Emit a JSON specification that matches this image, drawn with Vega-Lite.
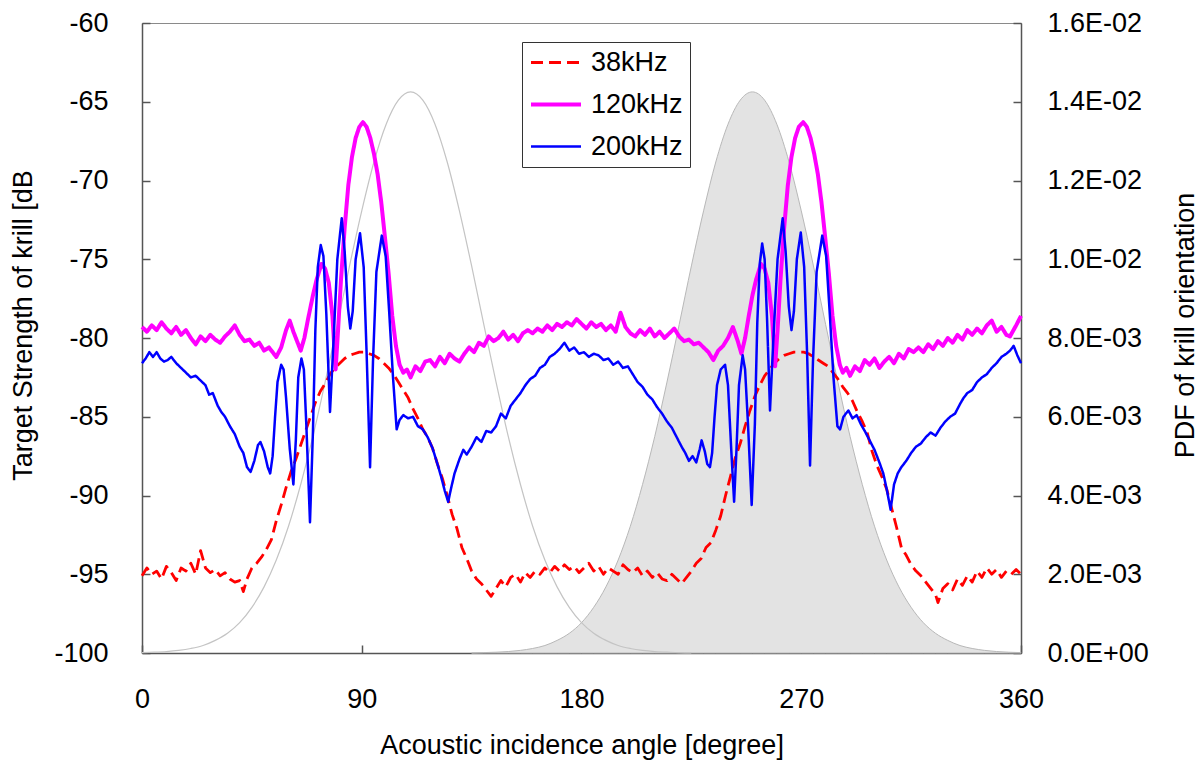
{
"$schema": "https://vega.github.io/schema/vega-lite/v6.json",
"width": 879, "height": 630,
"autosize": {"type": "none"},
"padding": {"left": 142, "top": 23, "right": 180, "bottom": 112},
"background": "white",
"config": {
 "font": "Liberation Sans",
 "view": {"stroke": "#8a8a8a", "strokeWidth": 1},
 "axis": {"labelFont": "Liberation Sans", "labelFontSize": 27, "labelColor": "black", "titleFont": "Liberation Sans", "titleFontSize": 27, "titleFontWeight": "normal", "titleColor": "black", "domainColor": "#555555", "domainWidth": 1.5, "tickColor": "#555555", "tickWidth": 1.5, "tickSize": -8, "grid": false, "labelFlush": false, "labelOverlap": false}
},
"datasets": {
 "pdf": [
  {"a":0,"g1":0.00001,"g2":null},{"a":5,"g1":0.00002,"g2":null},{"a":10,"g1":0.000037,"g2":null},{"a":15,"g1":0.000067,"g2":null},{"a":20,"g1":0.000115,"g2":null},{"a":25,"g1":0.00019,"g2":null},{"a":30,"g1":0.00032,"g2":null},{"a":35,"g1":0.0005,"g2":null},{"a":40,"g1":0.00077,"g2":null},{"a":45,"g1":0.00116,"g2":null},{"a":50,"g1":0.00168,"g2":null},{"a":55,"g1":0.00236,"g2":null},{"a":60,"g1":0.00322,"g2":null},{"a":65,"g1":0.00428,"g2":null},{"a":70,"g1":0.0055,"g2":null},{"a":75,"g1":0.00688,"g2":null},{"a":80,"g1":0.00834,"g2":null},{"a":85,"g1":0.00983,"g2":null},{"a":90,"g1":0.01123,"g2":null},{"a":95,"g1":0.01247,"g2":null},{"a":100,"g1":0.01343,"g2":null},{"a":105,"g1":0.01404,"g2":null},{"a":110,"g1":0.01425,"g2":null},{"a":115,"g1":0.01404,"g2":null},{"a":120,"g1":0.01343,"g2":null},{"a":125,"g1":0.01247,"g2":null},{"a":130,"g1":0.01123,"g2":null},{"a":135,"g1":0.00983,"g2":0},
  {"a":140,"g1":0.00834,"g2":0.00001},{"a":145,"g1":0.00688,"g2":0.00002},{"a":150,"g1":0.0055,"g2":0.000037},{"a":155,"g1":0.00428,"g2":0.000067},{"a":160,"g1":0.00322,"g2":0.000115},{"a":165,"g1":0.00236,"g2":0.00019},{"a":170,"g1":0.00168,"g2":0.00032},{"a":175,"g1":0.00116,"g2":0.0005},{"a":180,"g1":0.00077,"g2":0.00077},{"a":185,"g1":0.0005,"g2":0.00116},{"a":190,"g1":0.00032,"g2":0.00168},{"a":195,"g1":0.00019,"g2":0.00236},{"a":200,"g1":0.000115,"g2":0.00322},{"a":205,"g1":0.000067,"g2":0.00428},{"a":210,"g1":0.000037,"g2":0.0055},{"a":215,"g1":0.00002,"g2":0.00688},{"a":220,"g1":0.00001,"g2":0.00834},{"a":225,"g1":0,"g2":0.00983},
  {"a":230,"g1":null,"g2":0.01123},{"a":235,"g1":null,"g2":0.01247},{"a":240,"g1":null,"g2":0.01343},{"a":245,"g1":null,"g2":0.01404},{"a":250,"g1":null,"g2":0.01425},{"a":255,"g1":null,"g2":0.01404},{"a":260,"g1":null,"g2":0.01343},{"a":265,"g1":null,"g2":0.01247},{"a":270,"g1":null,"g2":0.01123},{"a":275,"g1":null,"g2":0.00983},{"a":280,"g1":null,"g2":0.00834},{"a":285,"g1":null,"g2":0.00688},{"a":290,"g1":null,"g2":0.0055},{"a":295,"g1":null,"g2":0.00428},{"a":300,"g1":null,"g2":0.00322},{"a":305,"g1":null,"g2":0.00236},{"a":310,"g1":null,"g2":0.00168},{"a":315,"g1":null,"g2":0.00116},{"a":320,"g1":null,"g2":0.00077},{"a":325,"g1":null,"g2":0.0005},{"a":330,"g1":null,"g2":0.00032},{"a":335,"g1":null,"g2":0.00019},{"a":340,"g1":null,"g2":0.000115},{"a":345,"g1":null,"g2":0.000067},{"a":350,"g1":null,"g2":0.000037},{"a":355,"g1":null,"g2":0.00002},{"a":360,"g1":null,"g2":0.00001}
 ],
 "ts": [
  {"a":0,"f":"38kHz","v":-95.1},{"a":2,"f":"38kHz","v":-94.6},{"a":4,"f":"38kHz","v":-95.0},{"a":6,"f":"38kHz","v":-94.8},{"a":8,"f":"38kHz","v":-95.3},{"a":10,"f":"38kHz","v":-94.5},{"a":12,"f":"38kHz","v":-94.9},{"a":14,"f":"38kHz","v":-95.4},{"a":16,"f":"38kHz","v":-94.6},{"a":18,"f":"38kHz","v":-94.8},{"a":20,"f":"38kHz","v":-94.3},{"a":22,"f":"38kHz","v":-95.0},{"a":24,"f":"38kHz","v":-93.5},{"a":26,"f":"38kHz","v":-94.6},{"a":28,"f":"38kHz","v":-94.9},{"a":30,"f":"38kHz","v":-94.7},{"a":32,"f":"38kHz","v":-95.1},{"a":34,"f":"38kHz","v":-94.9},{"a":36,"f":"38kHz","v":-95.3},{"a":38,"f":"38kHz","v":-95.5},{"a":40,"f":"38kHz","v":-95.4},{"a":41.5,"f":"38kHz","v":-96.1},{"a":43,"f":"38kHz","v":-95.3},{"a":45,"f":"38kHz","v":-94.6},{"a":47,"f":"38kHz","v":-94.3},{"a":49,"f":"38kHz","v":-93.9},{"a":51,"f":"38kHz","v":-93.4},{"a":53,"f":"38kHz","v":-92.8},{"a":55,"f":"38kHz","v":-91.6},{"a":57,"f":"38kHz","v":-90.6},{"a":59,"f":"38kHz","v":-89.5},{"a":61,"f":"38kHz","v":-88.5},{"a":63,"f":"38kHz","v":-87.7},{"a":65,"f":"38kHz","v":-86.8},{"a":67,"f":"38kHz","v":-85.9},{"a":69,"f":"38kHz","v":-85.0},{"a":71,"f":"38kHz","v":-84.1},{"a":73,"f":"38kHz","v":-83.4},{"a":75,"f":"38kHz","v":-82.9},{"a":77,"f":"38kHz","v":-82.3},{"a":79,"f":"38kHz","v":-81.9},{"a":81,"f":"38kHz","v":-81.6},{"a":83,"f":"38kHz","v":-81.3},{"a":85,"f":"38kHz","v":-81.1},{"a":87,"f":"38kHz","v":-81.0},{"a":89,"f":"38kHz","v":-80.9},{"a":91,"f":"38kHz","v":-80.9},{"a":93,"f":"38kHz","v":-81.0},{"a":95,"f":"38kHz","v":-81.1},{"a":97,"f":"38kHz","v":-81.3},{"a":99,"f":"38kHz","v":-81.6},{"a":101,"f":"38kHz","v":-81.9},{"a":103,"f":"38kHz","v":-82.3},{"a":105,"f":"38kHz","v":-82.8},{"a":107,"f":"38kHz","v":-83.3},{"a":109,"f":"38kHz","v":-83.8},{"a":111,"f":"38kHz","v":-84.5},{"a":113,"f":"38kHz","v":-85.1},{"a":115,"f":"38kHz","v":-85.8},{"a":117,"f":"38kHz","v":-86.3},{"a":119,"f":"38kHz","v":-87.0},{"a":121,"f":"38kHz","v":-88.0},{"a":123,"f":"38kHz","v":-88.9},{"a":125,"f":"38kHz","v":-90.0},{"a":127,"f":"38kHz","v":-91.2},{"a":129,"f":"38kHz","v":-92.1},{"a":131,"f":"38kHz","v":-93.3},{"a":133,"f":"38kHz","v":-94.0},{"a":135,"f":"38kHz","v":-94.8},{"a":137,"f":"38kHz","v":-95.3},{"a":139,"f":"38kHz","v":-95.6},{"a":141,"f":"38kHz","v":-96.0},{"a":143,"f":"38kHz","v":-96.4},{"a":145,"f":"38kHz","v":-95.9},{"a":147,"f":"38kHz","v":-95.4},{"a":149,"f":"38kHz","v":-95.8},{"a":151,"f":"38kHz","v":-95.2},{"a":153,"f":"38kHz","v":-95.0},{"a":155,"f":"38kHz","v":-95.5},{"a":157,"f":"38kHz","v":-94.9},{"a":159,"f":"38kHz","v":-95.2},{"a":161,"f":"38kHz","v":-94.8},{"a":163,"f":"38kHz","v":-95.0},{"a":165,"f":"38kHz","v":-94.6},{"a":167,"f":"38kHz","v":-94.9},{"a":169,"f":"38kHz","v":-94.5},{"a":171,"f":"38kHz","v":-94.8},{"a":173,"f":"38kHz","v":-94.4},{"a":175,"f":"38kHz","v":-94.7},{"a":177,"f":"38kHz","v":-94.5},{"a":179,"f":"38kHz","v":-94.9},{"a":181,"f":"38kHz","v":-94.6},{"a":183,"f":"38kHz","v":-94.3},{"a":185,"f":"38kHz","v":-94.8},{"a":187,"f":"38kHz","v":-94.5},{"a":189,"f":"38kHz","v":-95.0},{"a":191,"f":"38kHz","v":-94.6},{"a":193,"f":"38kHz","v":-94.8},{"a":195,"f":"38kHz","v":-95.0},{"a":197,"f":"38kHz","v":-94.4},{"a":199,"f":"38kHz","v":-94.7},{"a":201,"f":"38kHz","v":-94.9},{"a":203,"f":"38kHz","v":-94.6},{"a":205,"f":"38kHz","v":-95.1},{"a":207,"f":"38kHz","v":-94.8},{"a":209,"f":"38kHz","v":-95.2},{"a":211,"f":"38kHz","v":-94.9},{"a":213,"f":"38kHz","v":-95.3},{"a":215,"f":"38kHz","v":-95.4},{"a":217,"f":"38kHz","v":-95.0},{"a":219,"f":"38kHz","v":-95.3},{"a":221,"f":"38kHz","v":-95.6},{"a":223,"f":"38kHz","v":-95.2},{"a":225,"f":"38kHz","v":-94.8},{"a":227,"f":"38kHz","v":-94.3},{"a":229,"f":"38kHz","v":-94.0},{"a":231,"f":"38kHz","v":-93.3},{"a":233,"f":"38kHz","v":-93.0},{"a":235,"f":"38kHz","v":-92.2},{"a":237,"f":"38kHz","v":-91.3},{"a":239,"f":"38kHz","v":-90.0},{"a":241,"f":"38kHz","v":-88.8},{"a":243,"f":"38kHz","v":-87.6},{"a":245,"f":"38kHz","v":-86.7},{"a":247,"f":"38kHz","v":-85.6},{"a":249,"f":"38kHz","v":-84.6},{"a":251,"f":"38kHz","v":-83.7},{"a":253,"f":"38kHz","v":-83.0},{"a":255,"f":"38kHz","v":-82.4},{"a":257,"f":"38kHz","v":-82.0},{"a":259,"f":"38kHz","v":-81.6},{"a":261,"f":"38kHz","v":-81.3},{"a":263,"f":"38kHz","v":-81.1},{"a":265,"f":"38kHz","v":-81.0},{"a":267,"f":"38kHz","v":-80.9},{"a":269,"f":"38kHz","v":-80.9},{"a":271,"f":"38kHz","v":-80.9},{"a":273,"f":"38kHz","v":-81.0},{"a":275,"f":"38kHz","v":-81.2},{"a":277,"f":"38kHz","v":-81.4},{"a":279,"f":"38kHz","v":-81.6},{"a":281,"f":"38kHz","v":-81.8},{"a":283,"f":"38kHz","v":-82.2},{"a":285,"f":"38kHz","v":-82.6},{"a":287,"f":"38kHz","v":-83.1},{"a":289,"f":"38kHz","v":-83.5},{"a":291,"f":"38kHz","v":-84.0},{"a":293,"f":"38kHz","v":-84.7},{"a":295,"f":"38kHz","v":-85.3},{"a":297,"f":"38kHz","v":-86.0},{"a":299,"f":"38kHz","v":-87.2},{"a":301,"f":"38kHz","v":-88.1},{"a":303,"f":"38kHz","v":-88.8},{"a":305,"f":"38kHz","v":-89.6},{"a":307,"f":"38kHz","v":-90.8},{"a":309,"f":"38kHz","v":-92.0},{"a":311,"f":"38kHz","v":-93.3},{"a":313,"f":"38kHz","v":-93.8},{"a":315,"f":"38kHz","v":-94.4},{"a":317,"f":"38kHz","v":-94.8},{"a":319,"f":"38kHz","v":-95.1},{"a":321,"f":"38kHz","v":-95.5},{"a":323,"f":"38kHz","v":-95.9},{"a":325,"f":"38kHz","v":-96.3},{"a":326,"f":"38kHz","v":-96.8},{"a":328,"f":"38kHz","v":-95.9},{"a":330,"f":"38kHz","v":-95.6},{"a":332,"f":"38kHz","v":-96.0},{"a":334,"f":"38kHz","v":-95.3},{"a":336,"f":"38kHz","v":-95.7},{"a":338,"f":"38kHz","v":-95.1},{"a":340,"f":"38kHz","v":-95.5},{"a":342,"f":"38kHz","v":-94.8},{"a":344,"f":"38kHz","v":-95.2},{"a":346,"f":"38kHz","v":-94.6},{"a":348,"f":"38kHz","v":-95.0},{"a":350,"f":"38kHz","v":-94.7},{"a":352,"f":"38kHz","v":-95.2},{"a":354,"f":"38kHz","v":-94.8},{"a":356,"f":"38kHz","v":-95.0},{"a":358,"f":"38kHz","v":-94.7},{"a":360,"f":"38kHz","v":-95.0},

  {"a":0,"f":"120kHz","v":-79.3},{"a":2,"f":"120kHz","v":-79.6},{"a":4,"f":"120kHz","v":-79.2},{"a":6,"f":"120kHz","v":-79.5},{"a":8,"f":"120kHz","v":-79.0},{"a":10,"f":"120kHz","v":-79.4},{"a":12,"f":"120kHz","v":-79.7},{"a":14,"f":"120kHz","v":-79.3},{"a":16,"f":"120kHz","v":-79.8},{"a":18,"f":"120kHz","v":-79.5},{"a":20,"f":"120kHz","v":-80.0},{"a":22,"f":"120kHz","v":-80.4},{"a":24,"f":"120kHz","v":-79.9},{"a":26,"f":"120kHz","v":-80.2},{"a":28,"f":"120kHz","v":-79.8},{"a":30,"f":"120kHz","v":-80.1},{"a":32,"f":"120kHz","v":-80.3},{"a":34,"f":"120kHz","v":-79.9},{"a":36,"f":"120kHz","v":-79.6},{"a":38,"f":"120kHz","v":-79.2},{"a":40,"f":"120kHz","v":-79.8},{"a":42,"f":"120kHz","v":-80.2},{"a":44,"f":"120kHz","v":-80.1},{"a":46,"f":"120kHz","v":-80.5},{"a":48,"f":"120kHz","v":-80.3},{"a":50,"f":"120kHz","v":-80.8},{"a":52,"f":"120kHz","v":-80.6},{"a":54,"f":"120kHz","v":-81.0},{"a":55,"f":"120kHz","v":-81.2},{"a":57,"f":"120kHz","v":-80.6},{"a":59,"f":"120kHz","v":-79.5},{"a":60.5,"f":"120kHz","v":-78.9},{"a":62,"f":"120kHz","v":-79.6},{"a":64,"f":"120kHz","v":-80.4},{"a":65,"f":"120kHz","v":-80.8},{"a":66.5,"f":"120kHz","v":-80.0},{"a":68,"f":"120kHz","v":-78.8},{"a":70,"f":"120kHz","v":-77.3},{"a":71.5,"f":"120kHz","v":-76.3},{"a":73.5,"f":"120kHz","v":-75.3},{"a":75,"f":"120kHz","v":-75.6},{"a":76.5,"f":"120kHz","v":-76.5},{"a":78,"f":"120kHz","v":-78.6},{"a":79.3,"f":"120kHz","v":-82.0},{"a":80.3,"f":"120kHz","v":-79.5},{"a":81.5,"f":"120kHz","v":-76.3},{"a":83,"f":"120kHz","v":-73.0},{"a":84.5,"f":"120kHz","v":-70.3},{"a":86,"f":"120kHz","v":-68.5},{"a":87.5,"f":"120kHz","v":-67.3},{"a":89,"f":"120kHz","v":-66.6},{"a":90.5,"f":"120kHz","v":-66.3},{"a":92,"f":"120kHz","v":-66.6},{"a":93.5,"f":"120kHz","v":-67.3},{"a":95,"f":"120kHz","v":-68.3},{"a":96.5,"f":"120kHz","v":-69.6},{"a":98,"f":"120kHz","v":-71.4},{"a":99.5,"f":"120kHz","v":-73.6},{"a":101,"f":"120kHz","v":-75.9},{"a":102.5,"f":"120kHz","v":-78.6},{"a":104,"f":"120kHz","v":-80.5},{"a":105.5,"f":"120kHz","v":-81.7},{"a":107,"f":"120kHz","v":-82.2},{"a":108.5,"f":"120kHz","v":-82.0},{"a":110,"f":"120kHz","v":-82.5},{"a":112,"f":"120kHz","v":-81.8},{"a":114,"f":"120kHz","v":-82.1},{"a":116,"f":"120kHz","v":-81.5},{"a":118,"f":"120kHz","v":-81.4},{"a":120,"f":"120kHz","v":-81.8},{"a":122,"f":"120kHz","v":-81.2},{"a":124,"f":"120kHz","v":-81.6},{"a":126,"f":"120kHz","v":-81.0},{"a":128,"f":"120kHz","v":-81.3},{"a":130,"f":"120kHz","v":-81.5},{"a":132,"f":"120kHz","v":-81.0},{"a":134,"f":"120kHz","v":-80.6},{"a":136,"f":"120kHz","v":-80.9},{"a":138,"f":"120kHz","v":-80.3},{"a":140,"f":"120kHz","v":-80.5},{"a":142,"f":"120kHz","v":-79.9},{"a":144,"f":"120kHz","v":-80.2},{"a":146,"f":"120kHz","v":-80.0},{"a":148,"f":"120kHz","v":-79.6},{"a":150,"f":"120kHz","v":-80.1},{"a":152,"f":"120kHz","v":-79.8},{"a":154,"f":"120kHz","v":-80.2},{"a":156,"f":"120kHz","v":-79.7},{"a":158,"f":"120kHz","v":-79.5},{"a":160,"f":"120kHz","v":-79.7},{"a":162,"f":"120kHz","v":-79.4},{"a":164,"f":"120kHz","v":-79.6},{"a":166,"f":"120kHz","v":-79.2},{"a":168,"f":"120kHz","v":-79.5},{"a":170,"f":"120kHz","v":-79.1},{"a":172,"f":"120kHz","v":-79.3},{"a":174,"f":"120kHz","v":-79.0},{"a":176,"f":"120kHz","v":-79.2},{"a":178,"f":"120kHz","v":-78.8},{"a":180,"f":"120kHz","v":-79.1},{"a":182,"f":"120kHz","v":-79.4},{"a":184,"f":"120kHz","v":-79.0},{"a":186,"f":"120kHz","v":-79.3},{"a":188,"f":"120kHz","v":-79.1},{"a":190,"f":"120kHz","v":-79.5},{"a":192,"f":"120kHz","v":-79.2},{"a":194,"f":"120kHz","v":-79.6},{"a":196,"f":"120kHz","v":-78.4},{"a":198,"f":"120kHz","v":-79.3},{"a":200,"f":"120kHz","v":-79.7},{"a":202,"f":"120kHz","v":-79.9},{"a":204,"f":"120kHz","v":-79.5},{"a":206,"f":"120kHz","v":-79.8},{"a":208,"f":"120kHz","v":-79.4},{"a":210,"f":"120kHz","v":-79.9},{"a":212,"f":"120kHz","v":-79.6},{"a":214,"f":"120kHz","v":-80.0},{"a":216,"f":"120kHz","v":-79.7},{"a":218,"f":"120kHz","v":-79.4},{"a":220,"f":"120kHz","v":-79.9},{"a":222,"f":"120kHz","v":-80.2},{"a":224,"f":"120kHz","v":-80.1},{"a":226,"f":"120kHz","v":-80.4},{"a":228,"f":"120kHz","v":-80.3},{"a":230,"f":"120kHz","v":-80.6},{"a":232,"f":"120kHz","v":-80.9},{"a":234,"f":"120kHz","v":-81.4},{"a":236,"f":"120kHz","v":-80.8},{"a":238,"f":"120kHz","v":-80.5},{"a":240,"f":"120kHz","v":-80.0},{"a":242,"f":"120kHz","v":-79.3},{"a":244,"f":"120kHz","v":-80.2},{"a":245.5,"f":"120kHz","v":-81.0},{"a":247,"f":"120kHz","v":-80.0},{"a":248.5,"f":"120kHz","v":-78.6},{"a":250,"f":"120kHz","v":-77.3},{"a":251.5,"f":"120kHz","v":-76.3},{"a":253.5,"f":"120kHz","v":-75.3},{"a":255,"f":"120kHz","v":-75.6},{"a":256.5,"f":"120kHz","v":-76.5},{"a":258,"f":"120kHz","v":-78.6},{"a":259.3,"f":"120kHz","v":-81.8},{"a":260.3,"f":"120kHz","v":-79.5},{"a":261.5,"f":"120kHz","v":-76.3},{"a":263,"f":"120kHz","v":-73.0},{"a":264.5,"f":"120kHz","v":-70.3},{"a":266,"f":"120kHz","v":-68.5},{"a":267.5,"f":"120kHz","v":-67.3},{"a":269,"f":"120kHz","v":-66.6},{"a":270.8,"f":"120kHz","v":-66.3},{"a":272.3,"f":"120kHz","v":-66.6},{"a":273.8,"f":"120kHz","v":-67.3},{"a":275.3,"f":"120kHz","v":-68.3},{"a":276.8,"f":"120kHz","v":-69.6},{"a":278.3,"f":"120kHz","v":-71.4},{"a":279.8,"f":"120kHz","v":-73.6},{"a":281.3,"f":"120kHz","v":-75.9},{"a":282.8,"f":"120kHz","v":-78.6},{"a":284.3,"f":"120kHz","v":-80.5},{"a":285.8,"f":"120kHz","v":-81.7},{"a":287,"f":"120kHz","v":-82.2},{"a":288.5,"f":"120kHz","v":-81.9},{"a":290,"f":"120kHz","v":-82.4},{"a":292,"f":"120kHz","v":-81.8},{"a":294,"f":"120kHz","v":-82.1},{"a":296,"f":"120kHz","v":-81.4},{"a":298,"f":"120kHz","v":-81.7},{"a":300,"f":"120kHz","v":-81.3},{"a":302,"f":"120kHz","v":-81.9},{"a":304,"f":"120kHz","v":-81.5},{"a":306,"f":"120kHz","v":-81.2},{"a":308,"f":"120kHz","v":-81.6},{"a":310,"f":"120kHz","v":-81.0},{"a":312,"f":"120kHz","v":-81.3},{"a":314,"f":"120kHz","v":-80.7},{"a":316,"f":"120kHz","v":-80.9},{"a":318,"f":"120kHz","v":-80.6},{"a":320,"f":"120kHz","v":-80.9},{"a":322,"f":"120kHz","v":-80.4},{"a":324,"f":"120kHz","v":-80.7},{"a":326,"f":"120kHz","v":-80.2},{"a":328,"f":"120kHz","v":-80.5},{"a":330,"f":"120kHz","v":-80.0},{"a":332,"f":"120kHz","v":-80.3},{"a":334,"f":"120kHz","v":-79.8},{"a":336,"f":"120kHz","v":-80.1},{"a":338,"f":"120kHz","v":-79.5},{"a":340,"f":"120kHz","v":-79.8},{"a":342,"f":"120kHz","v":-79.4},{"a":344,"f":"120kHz","v":-79.7},{"a":346,"f":"120kHz","v":-79.2},{"a":348,"f":"120kHz","v":-78.9},{"a":350,"f":"120kHz","v":-79.6},{"a":352,"f":"120kHz","v":-79.3},{"a":354,"f":"120kHz","v":-79.8},{"a":355.5,"f":"120kHz","v":-79.9},{"a":358,"f":"120kHz","v":-79.2},{"a":360,"f":"120kHz","v":-78.6},

  {"a":0,"f":"200kHz","v":-81.6},{"a":1.5,"f":"200kHz","v":-81.3},{"a":3,"f":"200kHz","v":-80.9},{"a":4.5,"f":"200kHz","v":-81.2},{"a":6,"f":"200kHz","v":-80.9},{"a":7.5,"f":"200kHz","v":-81.3},{"a":9,"f":"200kHz","v":-81.5},{"a":10.5,"f":"200kHz","v":-81.4},{"a":12,"f":"200kHz","v":-81.2},{"a":14,"f":"200kHz","v":-81.6},{"a":16,"f":"200kHz","v":-81.9},{"a":18,"f":"200kHz","v":-82.2},{"a":20,"f":"200kHz","v":-82.5},{"a":22,"f":"200kHz","v":-82.4},{"a":24,"f":"200kHz","v":-82.7},{"a":26,"f":"200kHz","v":-83.0},{"a":27.5,"f":"200kHz","v":-83.6},{"a":29,"f":"200kHz","v":-83.5},{"a":31,"f":"200kHz","v":-84.3},{"a":32.5,"f":"200kHz","v":-84.7},{"a":34,"f":"200kHz","v":-85.0},{"a":36,"f":"200kHz","v":-85.6},{"a":38,"f":"200kHz","v":-86.1},{"a":40,"f":"200kHz","v":-86.9},{"a":41.5,"f":"200kHz","v":-87.3},{"a":43,"f":"200kHz","v":-88.2},{"a":44.5,"f":"200kHz","v":-88.5},{"a":46,"f":"200kHz","v":-87.8},{"a":47.5,"f":"200kHz","v":-86.8},{"a":48.5,"f":"200kHz","v":-86.6},{"a":50,"f":"200kHz","v":-87.2},{"a":51.5,"f":"200kHz","v":-88.2},{"a":52.5,"f":"200kHz","v":-88.6},{"a":53.5,"f":"200kHz","v":-87.5},{"a":54.5,"f":"200kHz","v":-85.0},{"a":55.5,"f":"200kHz","v":-82.8},{"a":57,"f":"200kHz","v":-81.7},{"a":58,"f":"200kHz","v":-82.0},{"a":59,"f":"200kHz","v":-83.8},{"a":60.5,"f":"200kHz","v":-87.0},{"a":62,"f":"200kHz","v":-89.3},{"a":63,"f":"200kHz","v":-86.5},{"a":64,"f":"200kHz","v":-82.5},{"a":65.3,"f":"200kHz","v":-81.3},{"a":66.3,"f":"200kHz","v":-82.0},{"a":67.3,"f":"200kHz","v":-85.5},{"a":68.8,"f":"200kHz","v":-91.7},{"a":70,"f":"200kHz","v":-86.0},{"a":71,"f":"200kHz","v":-79.5},{"a":72,"f":"200kHz","v":-75.5},{"a":73.2,"f":"200kHz","v":-74.1},{"a":74.3,"f":"200kHz","v":-74.8},{"a":75.5,"f":"200kHz","v":-78.5},{"a":77,"f":"200kHz","v":-84.7},{"a":78.5,"f":"200kHz","v":-80.0},{"a":80,"f":"200kHz","v":-75.0},{"a":81.8,"f":"200kHz","v":-72.4},{"a":83,"f":"200kHz","v":-74.5},{"a":84.3,"f":"200kHz","v":-78.0},{"a":85.3,"f":"200kHz","v":-79.4},{"a":86.3,"f":"200kHz","v":-78.3},{"a":87.5,"f":"200kHz","v":-75.0},{"a":89.3,"f":"200kHz","v":-73.35},{"a":90.8,"f":"200kHz","v":-75.5},{"a":92,"f":"200kHz","v":-81.0},{"a":93.4,"f":"200kHz","v":-88.2},{"a":94.6,"f":"200kHz","v":-81.5},{"a":96,"f":"200kHz","v":-75.8},{"a":98.2,"f":"200kHz","v":-73.5},{"a":99.8,"f":"200kHz","v":-74.8},{"a":101.3,"f":"200kHz","v":-78.5},{"a":102.8,"f":"200kHz","v":-82.5},{"a":104.3,"f":"200kHz","v":-85.8},{"a":105.5,"f":"200kHz","v":-85.2},{"a":107,"f":"200kHz","v":-84.9},{"a":109,"f":"200kHz","v":-85.1},{"a":111,"f":"200kHz","v":-85.0},{"a":113,"f":"200kHz","v":-85.6},{"a":115,"f":"200kHz","v":-85.8},{"a":117,"f":"200kHz","v":-86.3},{"a":119,"f":"200kHz","v":-87.0},{"a":121,"f":"200kHz","v":-88.0},{"a":122.5,"f":"200kHz","v":-88.8},{"a":124,"f":"200kHz","v":-89.7},{"a":125.4,"f":"200kHz","v":-90.4},{"a":126.5,"f":"200kHz","v":-89.6},{"a":128,"f":"200kHz","v":-88.6},{"a":130,"f":"200kHz","v":-87.7},{"a":131.6,"f":"200kHz","v":-87.1},{"a":133,"f":"200kHz","v":-87.4},{"a":135,"f":"200kHz","v":-86.9},{"a":137,"f":"200kHz","v":-86.3},{"a":139,"f":"200kHz","v":-86.6},{"a":141,"f":"200kHz","v":-85.9},{"a":143,"f":"200kHz","v":-86.0},{"a":145,"f":"200kHz","v":-85.6},{"a":147,"f":"200kHz","v":-84.8},{"a":149,"f":"200kHz","v":-85.1},{"a":151,"f":"200kHz","v":-84.3},{"a":153,"f":"200kHz","v":-83.9},{"a":155,"f":"200kHz","v":-83.5},{"a":157,"f":"200kHz","v":-83.0},{"a":159,"f":"200kHz","v":-82.6},{"a":161,"f":"200kHz","v":-82.4},{"a":163,"f":"200kHz","v":-81.9},{"a":165,"f":"200kHz","v":-81.7},{"a":167,"f":"200kHz","v":-81.2},{"a":169,"f":"200kHz","v":-81.0},{"a":171,"f":"200kHz","v":-80.7},{"a":173,"f":"200kHz","v":-80.3},{"a":175,"f":"200kHz","v":-80.8},{"a":177,"f":"200kHz","v":-80.6},{"a":179,"f":"200kHz","v":-81.0},{"a":181,"f":"200kHz","v":-80.9},{"a":183,"f":"200kHz","v":-81.2},{"a":185,"f":"200kHz","v":-81.0},{"a":187,"f":"200kHz","v":-81.1},{"a":189,"f":"200kHz","v":-81.4},{"a":191,"f":"200kHz","v":-81.3},{"a":193,"f":"200kHz","v":-81.7},{"a":195,"f":"200kHz","v":-81.5},{"a":197,"f":"200kHz","v":-81.9},{"a":199,"f":"200kHz","v":-81.8},{"a":201,"f":"200kHz","v":-82.3},{"a":203,"f":"200kHz","v":-82.8},{"a":205,"f":"200kHz","v":-83.1},{"a":207,"f":"200kHz","v":-83.6},{"a":209,"f":"200kHz","v":-83.9},{"a":211,"f":"200kHz","v":-84.4},{"a":213,"f":"200kHz","v":-84.8},{"a":215,"f":"200kHz","v":-85.3},{"a":217,"f":"200kHz","v":-85.7},{"a":219,"f":"200kHz","v":-86.3},{"a":221,"f":"200kHz","v":-86.9},{"a":222.5,"f":"200kHz","v":-87.3},{"a":224,"f":"200kHz","v":-87.8},{"a":225.5,"f":"200kHz","v":-87.5},{"a":227,"f":"200kHz","v":-87.9},{"a":228.5,"f":"200kHz","v":-87.0},{"a":229.2,"f":"200kHz","v":-86.5},{"a":230.5,"f":"200kHz","v":-87.2},{"a":231.5,"f":"200kHz","v":-88.0},{"a":232.6,"f":"200kHz","v":-88.2},{"a":233.5,"f":"200kHz","v":-87.3},{"a":234.5,"f":"200kHz","v":-85.0},{"a":235.5,"f":"200kHz","v":-83.0},{"a":237,"f":"200kHz","v":-82.0},{"a":238.8,"f":"200kHz","v":-81.7},{"a":240,"f":"200kHz","v":-83.0},{"a":241.3,"f":"200kHz","v":-87.0},{"a":242.5,"f":"200kHz","v":-90.4},{"a":243.5,"f":"200kHz","v":-87.0},{"a":244.5,"f":"200kHz","v":-83.0},{"a":246,"f":"200kHz","v":-81.1},{"a":247,"f":"200kHz","v":-82.0},{"a":248.2,"f":"200kHz","v":-85.5},{"a":249.7,"f":"200kHz","v":-90.6},{"a":251,"f":"200kHz","v":-85.5},{"a":252,"f":"200kHz","v":-79.0},{"a":253,"f":"200kHz","v":-75.3},{"a":254,"f":"200kHz","v":-74.0},{"a":255,"f":"200kHz","v":-75.0},{"a":256,"f":"200kHz","v":-78.8},{"a":257.2,"f":"200kHz","v":-84.6},{"a":258.6,"f":"200kHz","v":-80.0},{"a":260.3,"f":"200kHz","v":-75.0},{"a":262.4,"f":"200kHz","v":-72.4},{"a":263.6,"f":"200kHz","v":-74.5},{"a":264.9,"f":"200kHz","v":-78.0},{"a":266,"f":"200kHz","v":-79.5},{"a":267,"f":"200kHz","v":-78.3},{"a":268.2,"f":"200kHz","v":-75.0},{"a":269.8,"f":"200kHz","v":-73.3},{"a":271.2,"f":"200kHz","v":-75.5},{"a":272.4,"f":"200kHz","v":-81.0},{"a":273.6,"f":"200kHz","v":-88.1},{"a":274.8,"f":"200kHz","v":-81.5},{"a":276.3,"f":"200kHz","v":-75.8},{"a":278.6,"f":"200kHz","v":-73.5},{"a":280.2,"f":"200kHz","v":-74.8},{"a":281.7,"f":"200kHz","v":-78.5},{"a":283.2,"f":"200kHz","v":-82.5},{"a":284.8,"f":"200kHz","v":-85.6},{"a":285.9,"f":"200kHz","v":-85.8},{"a":287.3,"f":"200kHz","v":-85.0},{"a":289.3,"f":"200kHz","v":-84.6},{"a":291,"f":"200kHz","v":-85.1},{"a":292.7,"f":"200kHz","v":-84.9},{"a":294.5,"f":"200kHz","v":-85.5},{"a":296,"f":"200kHz","v":-85.9},{"a":298,"f":"200kHz","v":-86.5},{"a":300,"f":"200kHz","v":-87.1},{"a":302,"f":"200kHz","v":-87.9},{"a":303.6,"f":"200kHz","v":-88.6},{"a":305,"f":"200kHz","v":-89.6},{"a":306.6,"f":"200kHz","v":-90.9},{"a":308,"f":"200kHz","v":-89.3},{"a":309.5,"f":"200kHz","v":-88.6},{"a":311,"f":"200kHz","v":-88.2},{"a":313,"f":"200kHz","v":-87.8},{"a":315,"f":"200kHz","v":-87.3},{"a":317,"f":"200kHz","v":-86.9},{"a":319,"f":"200kHz","v":-86.7},{"a":321,"f":"200kHz","v":-86.3},{"a":323,"f":"200kHz","v":-86.0},{"a":325,"f":"200kHz","v":-86.2},{"a":327,"f":"200kHz","v":-85.7},{"a":329,"f":"200kHz","v":-85.3},{"a":331,"f":"200kHz","v":-85.0},{"a":333,"f":"200kHz","v":-84.8},{"a":335,"f":"200kHz","v":-84.2},{"a":336.5,"f":"200kHz","v":-83.8},{"a":338,"f":"200kHz","v":-83.5},{"a":340,"f":"200kHz","v":-83.3},{"a":342,"f":"200kHz","v":-82.8},{"a":344,"f":"200kHz","v":-82.5},{"a":346,"f":"200kHz","v":-82.3},{"a":348,"f":"200kHz","v":-81.9},{"a":350,"f":"200kHz","v":-81.6},{"a":352,"f":"200kHz","v":-81.2},{"a":354,"f":"200kHz","v":-81.0},{"a":355.5,"f":"200kHz","v":-80.8},{"a":357,"f":"200kHz","v":-80.5},{"a":358.5,"f":"200kHz","v":-81.1},{"a":360,"f":"200kHz","v":-81.6}
 ]
},
"encoding": {
 "x": {"field": "a", "type": "quantitative", "scale": {"domain": [0, 360], "nice": false},
  "axis": {"values": [0, 90, 180, 270, 360], "labelExpr": "'' + datum.value", "title": "Acoustic incidence angle [degree]", "labelPadding": 41, "titlePadding": 20}}
},
"layer": [
 {"data": {"name": "pdf"},
  "mark": {"type": "area", "fill": "#e3e3e3", "stroke": "#b8b8b8", "strokeWidth": 1, "interpolate": "monotone"},
  "encoding": {"y": {"field": "g2", "type": "quantitative", "scale": {"domain": [0, 0.016], "nice": false},
   "axis": {"orient": "right", "values": [0, 0.002, 0.004, 0.006, 0.008, 0.01, 0.012, 0.014, 0.016],
    "labelExpr": "datum.value == 0 ? '0.0E+00' : (datum.value < 0.0095 ? format(datum.value*1000, '.1f') + 'E-03' : format(datum.value*100, '.1f') + 'E-02')",
    "labelPadding": 34, "title": "PDF of krill orientation", "titleAngle": -90, "titleX": 172, "titleY": 302, "titleBaseline": "alphabetic", "titleAlign": "center"}}}},
 {"data": {"name": "pdf"},
  "mark": {"type": "line", "stroke": "#c4c4c4", "strokeWidth": 1.2, "interpolate": "monotone"},
  "encoding": {"y": {"field": "g1", "type": "quantitative", "scale": {"domain": [0, 0.016], "nice": false}, "axis": null}}},
 {"data": {"name": "ts"},
  "mark": {"type": "line", "strokeJoin": "round"},
  "encoding": {
   "y": {"field": "v", "type": "quantitative", "scale": {"domain": [-100, -60], "nice": false},
    "axis": {"orient": "left", "values": [-100, -95, -90, -85, -80, -75, -70, -65, -60], "labelExpr": "'' + datum.value", "labelPadding": 42, "title": "Target Strength of krill [dB", "titleAngle": -90, "titleX": -111, "titleY": 302, "titleBaseline": "alphabetic", "titleAlign": "center"}},
   "color": {"field": "f", "type": "nominal", "scale": {"domain": ["38kHz", "120kHz", "200kHz"], "range": ["#ff0000", "#ff00ff", "#0000ff"]},
    "legend": {"title": null, "orient": "none", "legendX": 380, "legendY": 19, "symbolType": "stroke", "symbolSize": 2500, "clipHeight": 27, "rowPadding": 14, "labelFontSize": 27, "labelFont": "Liberation Sans", "labelColor": "black", "labelOffset": 8, "padding": 7, "strokeColor": "#333333", "fillColor": "white", "labelLimit": 0}},
   "strokeDash": {"field": "f", "type": "nominal", "scale": {"domain": ["38kHz", "120kHz", "200kHz"], "range": [[12, 6], [1, 0], [1, 0]]},
    "legend": {"title": null, "orient": "none", "legendX": 380, "legendY": 19, "symbolType": "stroke", "symbolSize": 2500, "clipHeight": 27, "rowPadding": 14, "labelFontSize": 27, "labelFont": "Liberation Sans", "labelColor": "black", "labelOffset": 8, "padding": 7, "strokeColor": "#333333", "fillColor": "white", "labelLimit": 0}},
   "strokeWidth": {"field": "f", "type": "nominal", "scale": {"type": "ordinal", "domain": ["38kHz", "120kHz", "200kHz"], "range": [2.8, 4, 2.5]},
    "legend": {"title": null, "orient": "none", "legendX": 380, "legendY": 19, "symbolType": "stroke", "symbolSize": 2500, "clipHeight": 27, "rowPadding": 14, "labelFontSize": 27, "labelFont": "Liberation Sans", "labelColor": "black", "labelOffset": 8, "padding": 7, "strokeColor": "#333333", "fillColor": "white", "labelLimit": 0}}
  }}
],
"resolve": {"scale": {"y": "independent"}}
}
